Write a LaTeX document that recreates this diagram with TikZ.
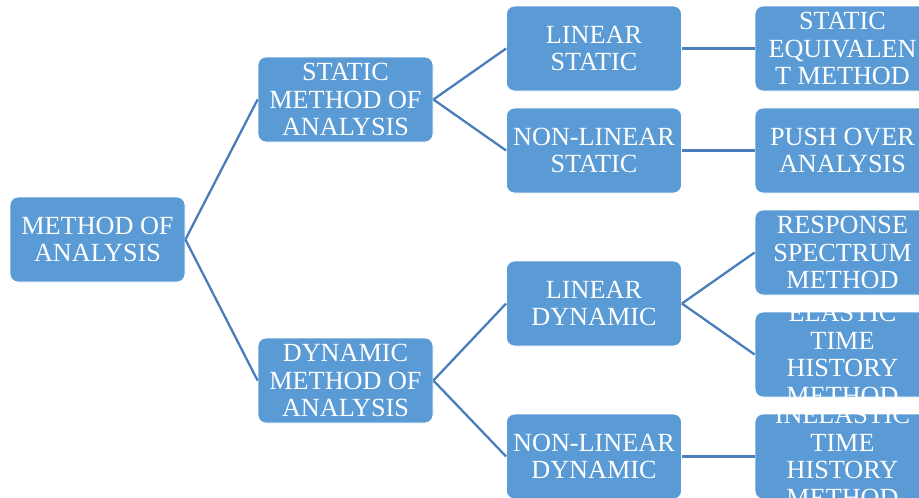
\documentclass[tikz,border=0pt]{standalone}
\usepackage{fontspec}
\setmainfont{Liberation Serif}
\definecolor{boxblue}{HTML}{5B9BD5}
\definecolor{linkblue}{HTML}{4A7EBB}
\tikzset{
  box/.style={rectangle, rounded corners=8pt, fill=boxblue, draw=white, line width=0.8pt,
              minimum width=175pt, minimum height=85pt, inner sep=0pt},
  txt/.style={align=center, text=white, inner sep=0pt,
              font=\fontsize{26.2}{27.5}\selectfont},
  link/.style={draw=linkblue, line width=2.3pt}
}
\begin{document}
\begin{tikzpicture}[x=1pt,y=-1pt]
\useasboundingbox (0,0) rectangle (919,498);
\clip (0,0) rectangle (919,498);
% boxes
\node[box] (root) at (97.5,239.5) {};
\node[box] (sm) at (345.5,99.5) {};
\node[box] (dm) at (345.5,380.5) {};
\node[box] (ls) at (594,48.5) {};
\node[box] (nls) at (594,150.5) {};
\node[box] (ld) at (594,303.5) {};
\node[box] (nld) at (594,456.5) {};
\node[box] (se) at (842.5,48.5) {};
\node[box] (po) at (842.5,150.5) {};
\node[box] (rs) at (842.5,252.5) {};
\node[box] (el) at (842.5,354.5) {};
\node[box] (ie) at (842.5,456.5) {};
% connectors
\draw[link] (root.east) -- (sm.west);
\draw[link] (root.east) -- (dm.west);
\draw[link] (sm.east) -- (ls.west);
\draw[link] (sm.east) -- (nls.west);
\draw[link] (dm.east) -- (ld.west);
\draw[link] (dm.east) -- (nld.west);
\draw[link] (ls.east) -- (se.west);
\draw[link] (nls.east) -- (po.west);
\draw[link] (ld.east) -- (rs.west);
\draw[link] (ld.east) -- (el.west);
\draw[link] (nld.east) -- (ie.west);
% texts
\node[txt] (root-t) at (root.center) {METHOD OF\\ANALYSIS};
\node[txt] (sm-t) at (sm.center) {STATIC\\METHOD OF\\ANALYSIS};
\node[txt] (dm-t) at (dm.center) {DYNAMIC\\METHOD OF\\ANALYSIS};
\node[txt] (ls-t) at (ls.center) {LINEAR\\STATIC};
\node[txt] (nls-t) at (nls.center) {NON-LINEAR\\STATIC};
\node[txt] (ld-t) at (ld.center) {LINEAR\\DYNAMIC};
\node[txt] (nld-t) at (nld.center) {NON-LINEAR\\DYNAMIC};
\node[txt] (se-t) at (se.center) {STATIC\\EQUIVALEN\\T METHOD};
\node[txt] (po-t) at (po.center) {PUSH OVER\\ANALYSIS};
\node[txt] (rs-t) at (rs.center) {RESPONSE\\SPECTRUM\\METHOD};
\node[txt] (el-t) at (el.center) {ELASTIC\\TIME\\HISTORY\\METHOD};
\node[txt] (ie-t) at (ie.center) {INELASTIC\\TIME\\HISTORY\\METHOD};
\end{tikzpicture}
\end{document}
